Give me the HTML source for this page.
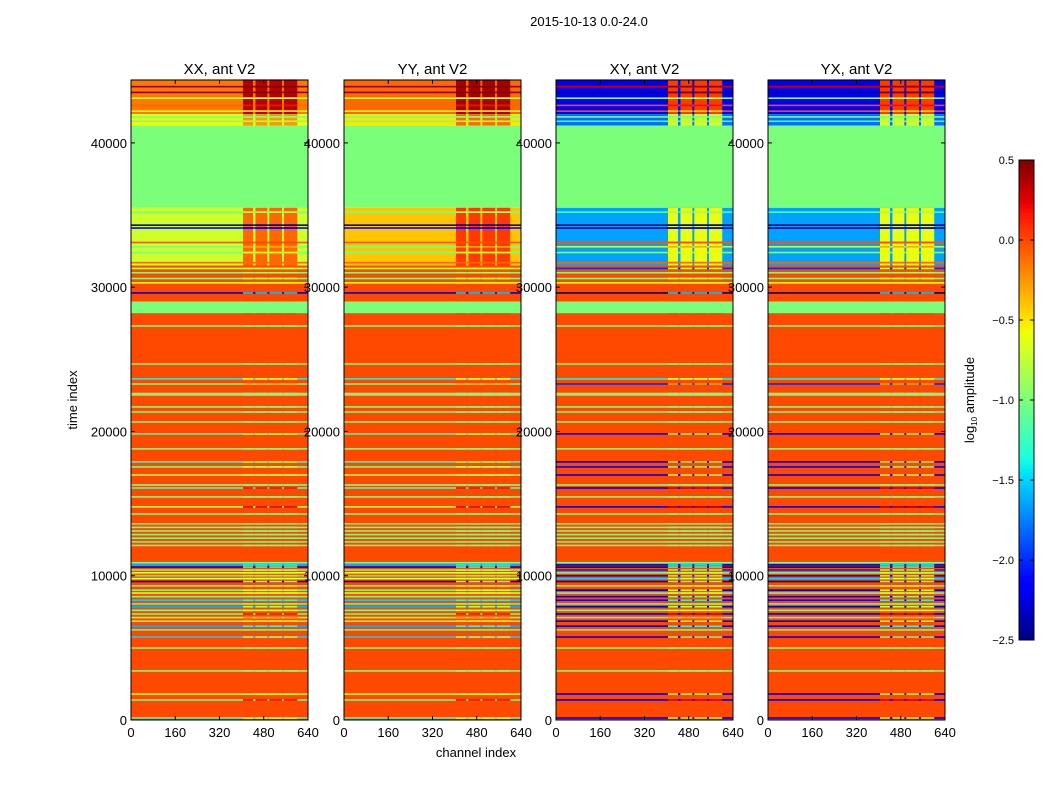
<!DOCTYPE html>
<html><head><meta charset="utf-8">
<style>
body{margin:0;background:#fff;}
svg{display:block;font-family:"Liberation Sans",sans-serif;}
</style></head>
<body>
<svg id="fig" width="1050" height="800" viewBox="0 0 1050 800" xmlns="http://www.w3.org/2000/svg">
<rect width="1050" height="800" fill="#fff"/>
<text x="589" y="26" font-size="13" text-anchor="middle">2015-10-13 0.0-24.0</text>
<text x="77" y="400" font-size="13" text-anchor="middle" transform="rotate(-90 77 400)">time index</text>
<text x="476" y="757" font-size="13" text-anchor="middle">channel index</text>
<g id="panels"></g>
<g id="cbar"></g>
</svg>
<script>
// ---- data ----
const panelNames = ["XX, ant V2","YY, ant V2","XY, ant V2","YX, ant V2"];
const xTicks = [0,160,320,480,640];
const yTicks = [0,10000,20000,30000,40000];
const cbarTicks = [0.5,0.0,-0.5,-1.0,-1.5,-2.0,-2.5];
// bands: [start, end]
const bandStart = [42000,41200,35500,31500,29000,28200,0];
const bandEnd   = [44400,42000,41200,35500,31500,29000,28200];
const bandLowXX = [-0.15,-0.6,-1.0,-0.7,0.0,-1.0,0.0];
const bandLowYY = [-0.1,-0.5,-1.0,-0.4,0.0,-1.0,0.0];
const bandLowXY = [-2.2,-1.8,-1.0,-1.65,0.0,-1.0,0.0];
const bandLowYX = [-2.2,-1.8,-1.0,-1.65,0.0,-1.0,0.0];
const bandHiXX  = [0.35,-0.25,-1.0,-0.1,0.0,-1.0,0.0];
const bandHiYY  = [0.4,-0.1,-1.0,0.05,0.0,-1.0,0.0];
const bandHiXY  = [0.05,-0.7,-1.0,-0.6,0.0,-1.0,0.0];
const bandHiYX  = [0.05,-0.7,-1.0,-0.6,0.0,-1.0,0.0];
// high-channel sub-columns
const hiColStart = [405,450,500,553];
const hiColEnd   = [440,492,545,600];
// thin horizontal lines (flagged rows)
const lineT  = [43900,43500,43100,42600,42200,41800,41500,35200,34300,34100,33100,32800,32400,31700,31300,31000,30600,30300,29600,27310,24680,23640,23290,22630,22530,21700,21350,20660,19830,18790,17890,17540,16980,16290,16080,15460,14770,14280,13600,13350,13100,12850,12600,12350,12100,10900,10750,10600,10400,10200,10000,9800,9600,9300,9000,8800,8550,8300,8050,7850,7600,7350,7100,6850,6500,6250,5750,4990,3400,1800,1390,140];
const lineXX = [0.45,0.45,-0.7,-0.1,-0.7,-1.0,-1.0,-1.0,-2.3,-2.2,-0.05,-1.0,-1.0,-0.1,-0.6,-1.0,-1.0,-0.6,-2.3,-1,-1,-1.4,-1.0,-1,-1,-1,-1,-1,-1.2,-1,-1.3,-1,-0.7,-1,-1.2,-1,-0.8,-1,-1,-1,-1,-1,-1,-1,-1,-1.0,-1.6,-2.2,-1.0,-0.6,-1.2,-0.6,-2.3,-1.0,-1.0,-0.6,-1.0,-1.5,-1.0,-1.6,-1.0,-1.0,-0.6,-1.0,-1.6,-1.0,-1.5,-1,-1,-0.6,-1.0,-1.2];
const lineXY = [0.3,-2.4,-1.0,0.0,0.0,-1.0,-1.2,-1.2,-2.5,-2.5,-0.05,-0.7,-1.0,-0.1,-2.0,-1.0,-1.0,-0.6,-2.5,-1,-1,-1.4,-2.0,-1,-1,-1,-1,-1,-2.2,-1,-2.3,-2.2,-2.2,-1,-2.2,-1,-2.2,-1,-1,-1,-1,-1,-1,-1,-1,-1.0,-2.3,-2.4,-2.0,-1.0,-2.3,-1.5,-2.5,-1.0,-2.3,-1.0,-2.3,-2.2,-1.0,-2.3,-1.0,-2.2,-1.0,-2.2,-2.3,-1.0,-2.2,-1,-1,-2.2,-2.2,-2.2];
const lineHi = [0.5,0.5,-0.7,0.2,-0.5,-1.0,-0.8,-0.8,-2.3,-2.2,0.0,-0.3,-0.6,-0.1,-0.6,-0.9,-0.7,-0.6,-1.5,-1,-1,-0.6,-0.3,-1,-1,-1,-1,-1,-0.7,-1,-0.8,-0.8,-0.7,-1,0.2,-1,0.3,-1,-1,-1,-1,-1,-1,-1,-1,-1.0,-1.4,-1.2,-0.7,-0.7,-0.9,-0.6,-1.0,-0.6,-0.6,-0.7,-1.0,-1.3,-0.8,-0.8,-0.7,0.2,-0.3,-0.6,-1.3,-1.0,-0.9,-1,-1,-0.6,0.2,-0.7];

// ---- layout ----
const panelX = [131,344,556,768];
const PW = 177, PT = 80, PB = 720, TMAX = 44360, CMAX = 640;
const VMIN = -2.5, VMAX = 0.5;
const NS = "http://www.w3.org/2000/svg";
function yS(t){ return PB - t*(PB-PT)/TMAX; }
function xS(px,c){ return px + c*PW/CMAX; }
function interp(f, pts){
  for(let i=1;i<pts.length;i++){
    if(f<=pts[i][0]){
      const a=pts[i-1], b=pts[i];
      return a[1]+(b[1]-a[1])*(f-a[0])/(b[0]-a[0]);
    }
  }
  return pts[pts.length-1][1];
}
const JR=[[0,0],[0.35,0],[0.66,1],[0.89,1],[1,0.5]];
const JG=[[0,0],[0.125,0],[0.375,1],[0.64,1],[0.91,0],[1,0]];
const JB=[[0,0.5],[0.11,1],[0.34,1],[0.65,0],[1,0]];
function jet(v){
  let f = (v-VMIN)/(VMAX-VMIN); f=Math.max(0,Math.min(1,f));
  return `rgb(${Math.round(interp(f,JR)*255)},${Math.round(interp(f,JG)*255)},${Math.round(interp(f,JB)*255)})`;
}
function mk(tag, attrs, parent){
  const e=document.createElementNS(NS,tag);
  for(const k in attrs) e.setAttribute(k,attrs[k]);
  parent.appendChild(e); return e;
}
const root = document.getElementById('panels');
const lowSets = [bandLowXX,bandLowYY,bandLowXY,bandLowYX];
const hiSets  = [bandHiXX,bandHiYY,bandHiXY,bandHiYX];

function rowRect(g,px,t0,t1,c0,c1,v,name){
  const y0=yS(t1), y1=yS(t0);
  const r=mk('rect',{x:xS(px,c0),y:y0,width:xS(px,c1)-xS(px,c0)+0.3,height:Math.max(1.2,y1-y0),fill:jet(v)},g);
  
  
}

panelNames.forEach((name,p)=>{
  const px = panelX[p];
  const g = mk('g',{},root);
  
  
  const low = lowSets[p], hi = hiSets[p];
  bandStart.forEach((s,i)=>{
    rowRect(g,px,s,bandEnd[i],0,CMAX,low[i],'heat-band');
    hiColStart.forEach((c0,j)=>{
      rowRect(g,px,s,bandEnd[i],c0,hiColEnd[j],hi[i],'heat-band-high');
    });
  });
  const lowLine = p<2 ? lineXX : lineXY;
  lineT.forEach((t,i)=>{
    rowRect(g,px,t-55,t+55,0,CMAX,lowLine[i],'heat-row');
    hiColStart.forEach((c0,j)=>{
      rowRect(g,px,t-55,t+55,c0,hiColEnd[j],lineHi[i],'heat-row-high');
    });
  });
  const fr=mk('rect',{x:px,y:PT,width:PW,height:PB-PT,fill:'none',stroke:'#000','stroke-width':1},g);
  
  
  const tt=mk('text',{x:px+PW/2,y:74,'font-size':15,'text-anchor':'middle'},g);
  tt.textContent=name;
  
  
  xTicks.forEach(c=>{
    const x=xS(px,c);
    mk('line',{x1:x,y1:PB,x2:x,y2:PB-4,stroke:'#000'},g);
    mk('line',{x1:x,y1:PT,x2:x,y2:PT+4,stroke:'#000'},g);
    const tl=mk('text',{x:x,y:PB+17,'font-size':13,'text-anchor':'middle'},g);
    tl.textContent=c;
    
    
  });
  yTicks.forEach(t=>{
    const y=yS(t);
    mk('line',{x1:px,y1:y,x2:px+4,y2:y,stroke:'#000'},g);
    mk('line',{x1:px+PW,y1:y,x2:px+PW-4,y2:y,stroke:'#000'},g);
    const tl=mk('text',{x:px-4,y:y+5,'font-size':13,'text-anchor':'end'},g);
    tl.textContent=t;
    
    
  });
});

// colorbar
const cb=document.getElementById('cbar');


const CX=1019, CW=15, CT=160, CB=640;
for(let i=0;i<120;i++){
  const v0=VMIN+(VMAX-VMIN)*i/120;
  const y=CB-(i+1)*(CB-CT)/120;
  mk('rect',{x:CX,y:y,width:CW,height:(CB-CT)/120+0.5,fill:jet(v0+(VMAX-VMIN)/240)},cb);
}
mk('rect',{x:CX,y:CT,width:CW,height:CB-CT,fill:'none',stroke:'#000'},cb);
cbarTicks.forEach(v=>{
  const y=CB-(v-VMIN)/(VMAX-VMIN)*(CB-CT);
  mk('line',{x1:CX,y1:y,x2:CX+4,y2:y,stroke:'#000'},cb);
  mk('line',{x1:CX+CW,y1:y,x2:CX+CW-4,y2:y,stroke:'#000'},cb);
  const tl=mk('text',{x:CX-5,y:y+4,'font-size':11,'text-anchor':'end'},cb);
  tl.textContent=(v<0?'\u2212':'')+Math.abs(v).toFixed(1);
  
  
});
const cl=mk('text',{x:974,y:400,'font-size':13,'text-anchor':'middle',transform:'rotate(-90 974 400)'},cb);
cl.innerHTML='log<tspan font-size="8" dy="3">10</tspan><tspan dy="-3"> amplitude</tspan>';


</script>
</body></html>
